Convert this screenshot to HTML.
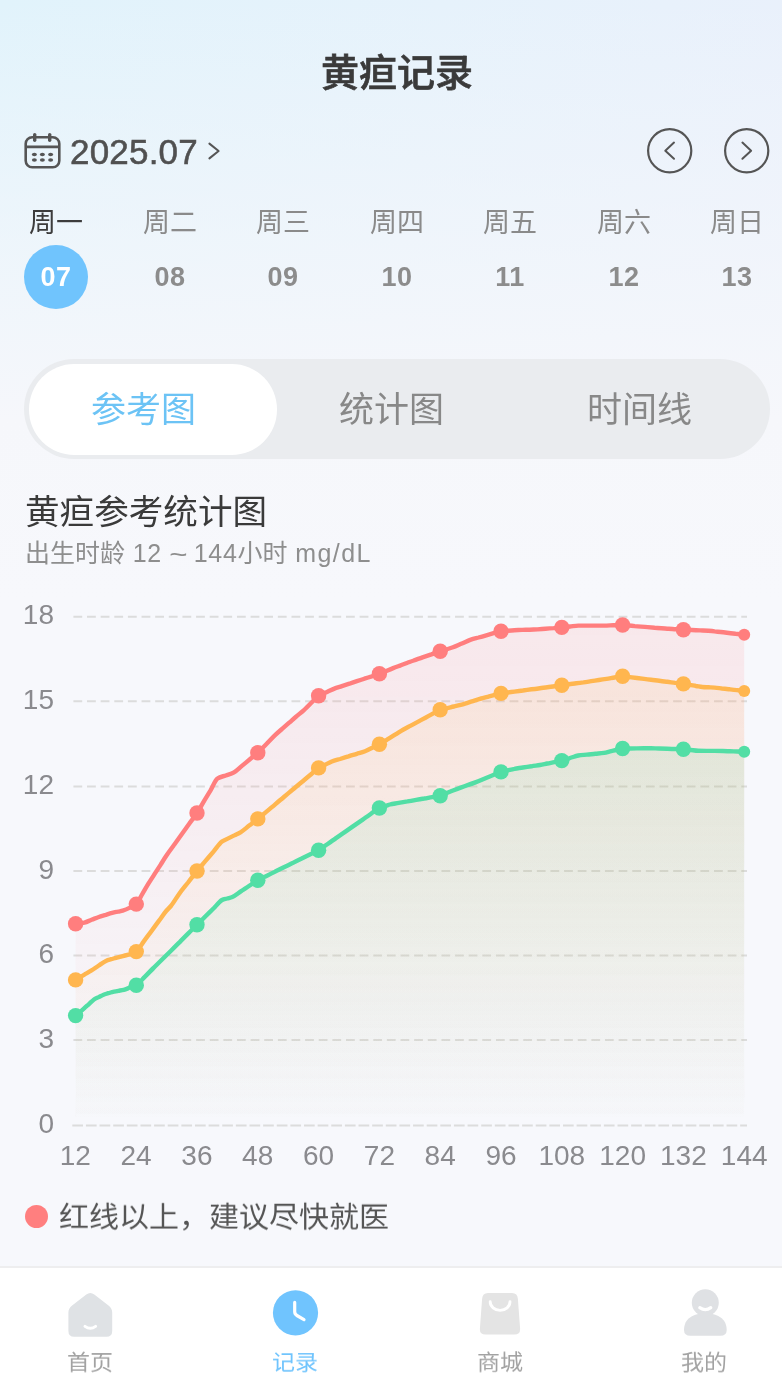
<!DOCTYPE html>
<html lang="zh-CN">
<head>
<meta charset="utf-8">
<title>黄疸记录</title>
<style>
*{margin:0;padding:0;box-sizing:border-box;}
html,body{width:782px;height:1375px;overflow:hidden;}
body{position:relative;font-family:"Liberation Sans","Noto Sans CJK SC",sans-serif;
background:#f7f8fc;}
.bg{position:absolute;left:0;top:0;width:782px;height:600px;
background:linear-gradient(to bottom,rgba(247,248,252,0) 0,rgba(245,247,251,0.75) 300px,#f6f7fb 420px,#f7f8fc 600px),
linear-gradient(100deg,#e1f3fb 0%,#e6f2fb 50%,#eaf0fb 100%);}
.abs{position:absolute;white-space:nowrap;will-change:transform;}
.title{left:0;width:794px;top:48.5px;text-align:center;font-size:38px;line-height:48px;font-weight:500;color:#3a3a3a;-webkit-text-stroke:0.7px #3a3a3a;
font-family:"Liberation Sans","Noto Sans CJK SC",sans-serif;}
.month{left:70px;top:132px;font-size:35px;line-height:40px;font-weight:normal;color:#505050;letter-spacing:0.2px;-webkit-text-stroke:0.55px #505050;}
.wk{top:206px;width:80px;text-align:center;font-size:27px;line-height:34px;color:#8a8a8a;font-family:"Liberation Sans","Noto Sans CJK SC",sans-serif;}
.wk.on{color:#3c3c3c;}
.dn{top:262px;width:80px;text-align:center;font-size:27px;line-height:30px;font-weight:bold;color:#8c8c8c;letter-spacing:0.6px;}
.dn.on{color:#fff;}
.dot07{left:24px;top:245px;width:64px;height:64px;border-radius:50%;background:#70c4fd;}
.seg{left:24px;top:359px;width:746px;height:100px;border-radius:50px;background:#eaecef;}
.segon{left:28.8px;top:363.5px;width:248.4px;height:90.5px;border-radius:45.25px;background:#fff;}
.st{top:389px;width:249px;text-align:center;font-size:35px;line-height:42px;color:#888;font-family:"Liberation Sans","Noto Sans CJK SC",sans-serif;}
.st.on{color:#6cc3f5;}
.h2{left:25px;top:489.8px;font-size:34.6px;line-height:44px;color:#3a3a3a;font-family:"Liberation Sans","Noto Sans CJK SC",sans-serif;}
.sub{left:25px;top:537px;font-size:25px;line-height:32px;color:#8e8e8e;letter-spacing:0.7px;}
.sub span{letter-spacing:0;}
.legend{left:59px;top:1197px;font-size:30px;line-height:40px;transform:scaleY(0.955);transform-origin:0 22px;color:#555;font-family:"Liberation Sans","Noto Sans CJK SC",sans-serif;}
.ldot{left:25px;top:1205px;width:23px;height:23px;border-radius:50%;background:#ff7f7f;}
.tabbar{left:0;top:1266px;width:782px;height:109px;background:#fff;border-top:2px solid #eeeeef;}
.tl{top:1347px;width:100px;text-align:center;font-size:23px;line-height:30px;transform:scaleY(0.93);transform-origin:50% 20px;color:#a2a2a2;font-family:"Liberation Sans","Noto Sans CJK SC",sans-serif;}
.tl.on{color:#70c4fd;}
</style>
</head>
<body>
<div class="bg"></div>

<div class="abs title">黄疸记录</div>

<!-- calendar icon -->
<svg class="abs" style="left:22px;top:131px" width="40" height="40" viewBox="0 0 40 40">
  <rect x="3.7" y="6.2" width="33.6" height="30.1" rx="6.5" fill="none" stroke="#555" stroke-width="2.6"/>
  <line x1="3.7" y1="15.9" x2="37.3" y2="15.9" stroke="#555" stroke-width="2.8"/>
  <line x1="12.7" y1="3.6" x2="12.7" y2="9.3" stroke="#555" stroke-width="3.4" stroke-linecap="round"/>
  <line x1="27.7" y1="3.6" x2="27.7" y2="9.3" stroke="#555" stroke-width="3.4" stroke-linecap="round"/>
  <g fill="#555">
    <ellipse cx="12.4" cy="23.5" rx="2.5" ry="1.7"/><ellipse cx="20.4" cy="23.5" rx="2.5" ry="1.7"/><ellipse cx="28.6" cy="23.5" rx="2.5" ry="1.7"/>
    <ellipse cx="12.4" cy="29" rx="2.5" ry="1.7"/><ellipse cx="20.4" cy="29" rx="2.5" ry="1.7"/><ellipse cx="28.6" cy="29" rx="2.5" ry="1.7"/>
  </g>
</svg>
<div class="abs month">2025.07</div>
<svg class="abs" style="left:204px;top:140px" width="20" height="22" viewBox="0 0 20 22">
  <polyline points="5.4,3.6 14.6,11 5.4,18.4" fill="none" stroke="#555" stroke-width="2" stroke-linecap="round" stroke-linejoin="round"/>
</svg>

<!-- nav circles -->
<svg class="abs" style="left:645px;top:126px" width="50" height="50" viewBox="0 0 50 50">
  <circle cx="24.7" cy="24.7" r="21.6" fill="none" stroke="#555" stroke-width="2.2"/>
  <polyline points="29,16.6 20.3,24.7 29,32.8" fill="none" stroke="#555" stroke-width="2" stroke-linecap="round" stroke-linejoin="round"/>
</svg>
<svg class="abs" style="left:722px;top:126px" width="50" height="50" viewBox="0 0 50 50">
  <circle cx="24.7" cy="24.7" r="21.6" fill="none" stroke="#555" stroke-width="2.2"/>
  <polyline points="20.4,16.6 29.1,24.7 20.4,32.8" fill="none" stroke="#555" stroke-width="2" stroke-linecap="round" stroke-linejoin="round"/>
</svg>

<!-- week row -->
<div class="abs wk on" style="left:16px">周一</div>
<div class="abs wk" style="left:130px">周二</div>
<div class="abs wk" style="left:243px">周三</div>
<div class="abs wk" style="left:357px">周四</div>
<div class="abs wk" style="left:470px">周五</div>
<div class="abs wk" style="left:584px">周六</div>
<div class="abs wk" style="left:697px">周日</div>
<div class="abs dot07"></div>
<div class="abs dn on" style="left:16px">07</div>
<div class="abs dn" style="left:130px">08</div>
<div class="abs dn" style="left:243px">09</div>
<div class="abs dn" style="left:357px">10</div>
<div class="abs dn" style="left:470px">11</div>
<div class="abs dn" style="left:584px">12</div>
<div class="abs dn" style="left:697px">13</div>

<!-- segmented -->
<div class="abs seg"></div>
<div class="abs segon"></div>
<div class="abs st on" style="left:19px">参考图</div>
<div class="abs st" style="left:267px">统计图</div>
<div class="abs st" style="left:515px">时间线</div>

<div class="abs h2">黄疸参考统计图</div>
<div class="abs sub"><span style="font-family:'Liberation Sans','Noto Sans CJK SC',sans-serif">出生时龄</span> 12 <span style="display:inline-block;transform:scaleX(1.25) translateY(1px);margin:0 1px 0 1px">~</span> 144<span style="font-family:'Liberation Sans','Noto Sans CJK SC',sans-serif">小时</span> <span style="letter-spacing:1.4px">mg/dL</span></div>

<!-- CHART -->
<!--CHART_START-->
<svg class="abs" style="left:0;top:580px" width="782" height="620" viewBox="0 580 782 620">
<defs>
<linearGradient id="fr" x1="0" y1="625.0" x2="0" y2="1117" gradientUnits="userSpaceOnUse"><stop offset="0" stop-color="#ff7e7e" stop-opacity="0.13"/><stop offset="1" stop-color="#ff7e7e" stop-opacity="0.005"/></linearGradient>
<linearGradient id="fo" x1="0" y1="676.2" x2="0" y2="1117" gradientUnits="userSpaceOnUse"><stop offset="0" stop-color="#ffb64f" stop-opacity="0.11"/><stop offset="1" stop-color="#ffb64f" stop-opacity="0.005"/></linearGradient>
<linearGradient id="fg" x1="0" y1="748.3" x2="0" y2="1117" gradientUnits="userSpaceOnUse"><stop offset="0" stop-color="#52dea5" stop-opacity="0.13"/><stop offset="1" stop-color="#52dea5" stop-opacity="0.005"/></linearGradient>
</defs>
<line x1="73.4" y1="616.8" x2="747" y2="616.8" stroke="#dcdcdc" stroke-width="2" stroke-dasharray="8.8 4.83"/>
<text x="54" y="624.3" text-anchor="end" font-size="28" fill="#8a8a8e" font-family="Liberation Sans, sans-serif">18</text>
<line x1="73.4" y1="701.2" x2="747" y2="701.2" stroke="#dcdcdc" stroke-width="2" stroke-dasharray="8.8 4.83"/>
<text x="54" y="708.7" text-anchor="end" font-size="28" fill="#8a8a8e" font-family="Liberation Sans, sans-serif">15</text>
<line x1="73.4" y1="786.6" x2="747" y2="786.6" stroke="#dcdcdc" stroke-width="2" stroke-dasharray="8.8 4.83"/>
<text x="54" y="794.1" text-anchor="end" font-size="28" fill="#8a8a8e" font-family="Liberation Sans, sans-serif">12</text>
<line x1="73.4" y1="871.1" x2="747" y2="871.1" stroke="#dcdcdc" stroke-width="2" stroke-dasharray="8.8 4.83"/>
<text x="54" y="878.6" text-anchor="end" font-size="28" fill="#8a8a8e" font-family="Liberation Sans, sans-serif">9</text>
<line x1="73.4" y1="955.6" x2="747" y2="955.6" stroke="#dcdcdc" stroke-width="2" stroke-dasharray="8.8 4.83"/>
<text x="54" y="963.1" text-anchor="end" font-size="28" fill="#8a8a8e" font-family="Liberation Sans, sans-serif">6</text>
<line x1="73.4" y1="1040.1" x2="747" y2="1040.1" stroke="#dcdcdc" stroke-width="2" stroke-dasharray="8.8 4.83"/>
<text x="54" y="1047.6" text-anchor="end" font-size="28" fill="#8a8a8e" font-family="Liberation Sans, sans-serif">3</text>
<line x1="72.3" y1="1125.6" x2="747" y2="1125.6" stroke="#dcdcdc" stroke-width="2" stroke-dasharray="10.7 2.93"/>
<text x="54" y="1133.1" text-anchor="end" font-size="28" fill="#8a8a8e" font-family="Liberation Sans, sans-serif">0</text>
<path d="M75.6,923.7 C78.5,923.3 81.5,923.3 84.4,922.6 C86.8,922.0 89.2,920.7 91.6,919.8 C94.0,918.9 96.4,917.8 98.8,917.0 C101.2,916.2 103.6,915.6 105.9,914.9 C108.3,914.1 110.7,913.3 113.1,912.7 C114.7,912.3 116.3,912.0 117.9,911.7 C119.5,911.3 121.1,911.1 122.7,910.6 C124.9,909.9 127.2,909.0 129.4,907.9 C131.7,906.8 134.0,906.6 136.3,904.1 C138.3,901.9 140.3,897.3 142.4,893.9 C144.4,890.5 146.4,887.0 148.4,883.7 C150.4,880.4 152.5,877.3 154.5,874.1 C156.6,870.9 158.6,867.8 160.7,864.6 C162.7,861.4 164.8,858.0 166.8,855.0 C169.3,851.3 171.8,848.0 174.4,844.5 C176.9,841.0 179.4,837.5 181.9,834.0 C184.4,830.5 186.9,827.0 189.4,823.5 C192.0,820.0 194.5,816.9 197.0,813.0 C199.3,809.5 201.6,805.4 203.8,801.5 C206.1,797.7 208.4,793.9 210.7,790.1 C212.9,786.2 215.2,780.3 217.5,778.6 C220.2,776.5 223.0,776.5 225.8,775.5 C228.5,774.5 231.2,774.1 234.0,772.4 C236.6,770.8 239.3,768.0 241.9,765.9 C244.6,763.7 247.2,761.5 249.9,759.3 C252.5,757.2 255.2,755.2 257.8,752.8 C260.8,750.1 263.7,746.7 266.7,743.7 C269.7,740.7 272.6,737.4 275.6,734.6 C277.9,732.5 280.1,730.6 282.4,728.6 C284.7,726.6 286.9,724.7 289.2,722.7 C291.5,720.7 293.7,718.6 296.0,716.7 C298.6,714.5 301.1,712.6 303.7,710.3 C306.2,708.1 308.7,705.5 311.1,703.0 C313.6,700.6 316.1,697.6 318.6,695.8 C321.2,693.9 323.9,693.4 326.5,692.2 C329.1,691.0 331.8,689.6 334.4,688.6 C336.9,687.6 339.4,687.0 341.9,686.1 C344.4,685.3 346.9,684.5 349.4,683.7 C351.9,682.8 354.4,682.0 356.9,681.2 C359.4,680.4 361.9,679.6 364.4,678.7 C366.9,677.9 369.4,677.1 371.9,676.3 C374.4,675.4 376.9,674.7 379.4,673.8 C381.7,672.9 384.0,671.9 386.3,671.0 C388.6,670.0 390.9,669.0 393.2,668.1 C395.5,667.2 397.8,666.4 400.0,665.6 C402.3,664.7 404.6,663.9 406.9,663.0 C409.1,662.2 411.4,661.3 413.7,660.5 C416.6,659.4 419.6,658.5 422.5,657.4 C425.5,656.4 428.4,655.4 431.4,654.4 C434.3,653.3 437.3,652.3 440.2,651.3 C442.3,650.6 444.5,650.0 446.6,649.3 C448.7,648.6 450.9,648.1 453.0,647.3 C456.0,646.2 459.0,644.7 461.9,643.5 C464.9,642.2 467.9,640.6 470.9,639.6 C473.5,638.7 476.0,638.2 478.6,637.5 C481.2,636.7 483.7,636.0 486.3,635.3 C488.8,634.6 491.2,633.9 493.6,633.2 C496.1,632.6 498.6,631.6 501.0,631.2 C503.2,630.9 505.5,630.9 507.7,630.7 C509.9,630.5 512.2,630.3 514.4,630.2 C517.0,630.1 519.5,630.0 522.1,629.9 C524.6,629.8 527.2,629.8 529.7,629.7 C532.3,629.6 534.8,629.5 537.4,629.4 C540.1,629.2 542.8,629.0 545.5,628.7 C548.2,628.5 551.0,628.3 553.7,628.1 C556.4,627.8 559.1,627.7 561.8,627.4 C564.5,627.1 567.3,626.8 570.0,626.5 C572.8,626.2 575.5,625.6 578.3,625.6 C581.1,625.6 584.0,625.6 586.8,625.6 C589.7,625.6 592.5,625.6 595.4,625.6 C598.2,625.6 601.1,625.6 603.9,625.6 C606.0,625.6 608.1,625.5 610.1,625.4 C612.2,625.3 614.3,625.3 616.4,625.2 C618.4,625.1 620.5,625.0 622.6,625.0 C624.6,625.0 626.7,625.4 628.7,625.5 C630.7,625.7 632.8,625.9 634.8,626.1 C636.8,626.2 638.9,626.4 640.9,626.6 C643.2,626.8 645.5,627.0 647.7,627.1 C650.0,627.3 652.3,627.5 654.6,627.7 C656.8,627.8 659.1,628.0 661.4,628.2 C663.8,628.4 666.3,628.5 668.7,628.7 C671.2,628.9 673.6,629.0 676.1,629.2 C678.5,629.4 681.0,629.6 683.4,629.7 C686.2,629.9 689.0,629.9 691.7,630.0 C694.5,630.1 697.3,630.3 700.1,630.4 C702.8,630.5 705.6,630.5 708.4,630.7 C710.5,630.9 712.5,631.1 714.6,631.4 C716.6,631.6 718.7,631.8 720.7,632.0 C722.8,632.3 724.8,632.5 726.9,632.7 C729.8,633.0 732.7,633.4 735.5,633.8 C738.4,634.1 741.3,634.4 744.2,634.8 L744.2,1117 L75.6,1117 Z" fill="url(#fr)"/>
<path d="M75.6,979.9 C78.5,978.1 81.5,976.3 84.4,974.6 C86.6,973.3 88.9,972.1 91.1,970.7 C93.7,969.1 96.2,967.2 98.8,965.5 C101.3,963.8 103.9,961.8 106.4,960.7 C108.0,960.0 109.6,959.7 111.2,959.2 C112.8,958.8 114.4,958.2 116.0,957.8 C117.9,957.3 119.8,956.8 121.8,956.3 C123.7,955.9 125.6,955.5 127.5,954.9 C130.4,954.0 133.4,953.8 136.3,951.6 C138.8,949.7 141.3,944.8 143.8,941.4 C146.3,938.0 148.8,934.6 151.4,931.2 C153.9,927.7 156.4,924.3 158.9,920.9 C161.4,917.5 163.9,913.6 166.4,910.7 C167.9,909.0 169.4,907.8 170.9,906.0 C173.6,902.7 176.4,897.7 179.1,893.9 C182.1,889.8 185.1,886.3 188.1,882.5 C191.0,878.6 194.0,874.7 197.0,871.0 C199.8,867.6 202.6,864.4 205.3,861.2 C208.1,857.9 210.9,854.6 213.7,851.3 C216.4,848.1 219.2,843.7 222.0,841.5 C224.1,839.9 226.1,839.5 228.2,838.4 C230.2,837.4 232.3,836.4 234.3,835.4 C236.4,834.3 238.4,833.6 240.5,832.3 C243.4,830.5 246.3,827.8 249.2,825.6 C252.0,823.4 254.9,821.2 257.8,818.9 C260.7,816.6 263.6,814.0 266.5,811.6 C269.4,809.2 272.3,806.8 275.2,804.3 C278.1,801.9 281.0,799.5 283.9,797.0 C286.8,794.6 289.6,792.2 292.5,789.8 C295.4,787.3 298.3,784.9 301.2,782.5 C304.1,780.0 307.0,777.6 309.9,775.2 C312.8,772.8 315.7,769.7 318.6,767.9 C320.8,766.5 323.0,765.8 325.2,764.7 C327.4,763.6 329.6,762.4 331.8,761.5 C334.6,760.4 337.4,759.8 340.1,759.0 C342.9,758.1 345.7,757.2 348.5,756.4 C351.2,755.5 354.0,754.7 356.8,753.8 C359.6,753.0 362.3,752.4 365.1,751.3 C367.5,750.3 369.9,749.0 372.2,747.8 C374.6,746.6 377.0,745.6 379.4,744.3 C382.1,742.8 384.8,741.0 387.4,739.4 C390.1,737.7 392.8,736.1 395.5,734.4 C398.1,732.8 400.8,731.0 403.5,729.5 C405.9,728.1 408.4,726.9 410.8,725.6 C413.3,724.2 415.7,722.9 418.2,721.6 C420.6,720.3 423.1,719.0 425.5,717.7 C428.0,716.4 430.4,715.1 432.9,713.7 C435.3,712.4 437.8,710.7 440.2,709.8 C442.5,708.9 444.8,708.7 447.0,708.2 C449.3,707.6 451.6,707.1 453.9,706.5 C456.1,706.0 458.4,705.5 460.7,704.9 C463.0,704.3 465.3,703.5 467.5,702.8 C469.8,702.1 472.1,701.3 474.4,700.6 C476.6,699.9 478.9,699.1 481.2,698.5 C483.4,697.9 485.6,697.4 487.8,696.8 C490.0,696.2 492.2,695.7 494.4,695.1 C496.6,694.5 498.8,693.8 501.0,693.4 C503.2,693.0 505.5,692.8 507.7,692.5 C509.9,692.2 512.2,691.9 514.4,691.6 C517.2,691.2 520.1,690.8 522.9,690.5 C525.8,690.1 528.6,689.7 531.5,689.3 C534.3,689.0 537.2,688.6 540.0,688.2 C542.4,687.9 544.8,687.5 547.3,687.2 C549.7,686.9 552.1,686.5 554.5,686.2 C557.0,685.9 559.4,685.5 561.8,685.2 C564.2,684.9 566.6,684.6 569.0,684.3 C571.4,684.0 573.9,683.6 576.3,683.3 C578.7,683.0 581.1,682.7 583.5,682.4 C586.1,682.0 588.6,681.6 591.2,681.2 C593.7,680.8 596.3,680.4 598.8,680.0 C601.4,679.6 603.9,679.2 606.5,678.8 C609.2,678.4 611.9,677.9 614.5,677.5 C617.2,677.1 619.9,676.2 622.6,676.2 C625.0,676.2 627.4,676.8 629.7,677.1 C632.1,677.4 634.5,677.7 636.9,678.0 C639.2,678.3 641.6,678.6 644.0,678.9 C646.4,679.2 648.7,679.5 651.1,679.8 C653.8,680.1 656.5,680.5 659.2,680.8 C661.9,681.2 664.6,681.5 667.2,681.8 C669.9,682.2 672.6,682.5 675.3,682.9 C678.0,683.2 680.7,683.5 683.4,683.9 C685.5,684.2 687.6,684.6 689.7,684.9 C691.8,685.3 693.9,685.6 696.0,686.0 C698.1,686.3 700.2,686.8 702.3,687.0 C704.4,687.2 706.4,687.2 708.5,687.3 C710.5,687.4 712.6,687.4 714.6,687.6 C717.1,687.8 719.5,688.2 722.0,688.5 C724.5,688.7 726.9,689.0 729.4,689.3 C731.9,689.6 734.3,689.9 736.8,690.1 C739.3,690.4 741.7,690.7 744.2,691.0 L744.2,1117 L75.6,1117 Z" fill="url(#fo)"/>
<path d="M75.6,1015.6 C78.5,1013.1 81.5,1010.7 84.4,1008.1 C86.0,1006.7 87.6,1005.2 89.2,1003.8 C90.8,1002.4 92.4,1000.6 94.0,999.5 C95.6,998.4 97.2,997.9 98.8,997.1 C100.4,996.3 102.0,995.3 103.6,994.7 C105.2,994.1 106.8,993.7 108.3,993.2 C109.9,992.8 111.5,992.2 113.1,991.8 C114.9,991.4 116.6,991.2 118.4,990.8 C120.2,990.5 121.9,990.4 123.7,989.9 C125.8,989.3 127.9,988.3 130.0,987.5 C132.1,986.8 134.2,986.5 136.3,985.2 C139.2,983.4 142.1,979.4 145.0,976.6 C147.9,973.7 150.8,970.8 153.6,967.9 C156.5,965.1 159.4,962.2 162.3,959.3 C165.2,956.4 168.1,953.6 171.0,950.7 C173.9,947.8 176.8,944.9 179.7,942.1 C182.5,939.2 185.4,936.3 188.3,933.4 C191.2,930.6 194.1,927.7 197.0,924.8 C199.8,922.0 202.6,919.3 205.3,916.5 C208.1,913.8 210.9,911.0 213.7,908.3 C216.4,905.5 219.2,901.6 222.0,900.0 C223.7,899.0 225.4,899.0 227.2,898.5 C228.9,898.0 230.6,897.7 232.3,897.0 C235.1,895.8 238.0,893.3 240.8,891.4 C243.6,889.5 246.5,887.7 249.3,885.8 C252.1,883.9 255.0,881.8 257.8,880.2 C260.7,878.5 263.6,877.3 266.5,875.9 C269.4,874.5 272.3,873.1 275.2,871.6 C278.1,870.2 281.0,868.8 283.9,867.3 C286.8,865.9 289.6,864.5 292.5,863.1 C295.4,861.6 298.3,860.2 301.2,858.8 C304.1,857.3 307.0,855.9 309.9,854.5 C312.8,853.1 315.7,851.9 318.6,850.2 C321.5,848.5 324.4,846.2 327.3,844.2 C330.2,842.2 333.1,840.2 336.0,838.1 C338.9,836.1 341.8,834.1 344.7,832.1 C347.6,830.1 350.4,828.1 353.3,826.1 C356.2,824.1 359.1,822.1 362.0,820.1 C364.9,818.0 367.8,816.0 370.7,814.0 C373.6,812.0 376.5,809.4 379.4,808.0 C381.2,807.2 382.9,806.8 384.7,806.2 C386.5,805.7 388.2,805.0 390.0,804.5 C392.9,803.7 395.8,803.5 398.7,802.9 C401.6,802.4 404.6,801.9 407.5,801.4 C410.4,800.8 413.3,800.3 416.2,799.8 C418.9,799.3 421.5,798.9 424.2,798.5 C426.9,798.0 429.5,797.6 432.2,797.1 C434.9,796.7 437.5,796.6 440.2,795.8 C442.3,795.2 444.5,794.0 446.6,793.1 C448.7,792.3 450.9,791.3 453.0,790.5 C455.6,789.5 458.1,788.6 460.7,787.7 C463.2,786.8 465.8,785.8 468.3,784.9 C470.9,784.0 473.4,783.1 476.0,782.1 C478.8,781.0 481.6,779.8 484.3,778.7 C487.1,777.6 489.9,776.4 492.7,775.3 C495.4,774.2 498.2,772.8 501.0,771.9 C503.2,771.2 505.5,770.9 507.7,770.3 C509.9,769.8 512.2,769.2 514.4,768.8 C517.2,768.2 520.1,768.0 522.9,767.5 C525.8,767.1 528.6,766.7 531.5,766.3 C534.3,765.8 537.2,765.5 540.0,765.0 C542.4,764.6 544.8,764.0 547.3,763.5 C549.7,763.0 552.1,762.6 554.5,762.1 C557.0,761.6 559.4,761.2 561.8,760.6 C564.5,759.9 567.3,758.9 570.0,758.0 C572.8,757.2 575.5,756.1 578.3,755.5 C581.1,754.9 584.0,754.9 586.8,754.6 C589.7,754.3 592.5,754.1 595.4,753.8 C598.2,753.5 601.1,753.4 603.9,752.9 C606.0,752.5 608.1,751.9 610.1,751.4 C612.2,750.9 614.3,750.5 616.4,750.0 C618.4,749.5 620.5,748.5 622.6,748.5 C625.0,748.5 627.4,748.5 629.7,748.5 C632.1,748.4 634.5,748.4 636.9,748.4 C639.2,748.4 641.6,748.4 644.0,748.3 C646.4,748.3 648.7,748.3 651.1,748.3 C653.8,748.3 656.5,748.5 659.2,748.5 C661.9,748.6 664.6,748.7 667.2,748.8 C669.9,748.9 672.6,749.0 675.3,749.0 C678.0,749.1 680.7,749.1 683.4,749.3 C685.9,749.5 688.3,749.8 690.8,750.0 C693.3,750.3 695.7,750.8 698.2,750.8 C700.9,750.8 703.7,750.8 706.4,750.9 C709.1,750.9 711.9,750.9 714.6,750.9 C717.3,751.0 720.1,751.0 722.8,751.0 C725.2,751.0 727.6,751.2 729.9,751.3 C732.3,751.4 734.7,751.4 737.1,751.5 C739.4,751.6 741.8,751.7 744.2,751.8 L744.2,1117 L75.6,1117 Z" fill="url(#fg)"/>
<path d="M75.6,923.7 C78.5,923.3 81.5,923.3 84.4,922.6 C86.8,922.0 89.2,920.7 91.6,919.8 C94.0,918.9 96.4,917.8 98.8,917.0 C101.2,916.2 103.6,915.6 105.9,914.9 C108.3,914.1 110.7,913.3 113.1,912.7 C114.7,912.3 116.3,912.0 117.9,911.7 C119.5,911.3 121.1,911.1 122.7,910.6 C124.9,909.9 127.2,909.0 129.4,907.9 C131.7,906.8 134.0,906.6 136.3,904.1 C138.3,901.9 140.3,897.3 142.4,893.9 C144.4,890.5 146.4,887.0 148.4,883.7 C150.4,880.4 152.5,877.3 154.5,874.1 C156.6,870.9 158.6,867.8 160.7,864.6 C162.7,861.4 164.8,858.0 166.8,855.0 C169.3,851.3 171.8,848.0 174.4,844.5 C176.9,841.0 179.4,837.5 181.9,834.0 C184.4,830.5 186.9,827.0 189.4,823.5 C192.0,820.0 194.5,816.9 197.0,813.0 C199.3,809.5 201.6,805.4 203.8,801.5 C206.1,797.7 208.4,793.9 210.7,790.1 C212.9,786.2 215.2,780.3 217.5,778.6 C220.2,776.5 223.0,776.5 225.8,775.5 C228.5,774.5 231.2,774.1 234.0,772.4 C236.6,770.8 239.3,768.0 241.9,765.9 C244.6,763.7 247.2,761.5 249.9,759.3 C252.5,757.2 255.2,755.2 257.8,752.8 C260.8,750.1 263.7,746.7 266.7,743.7 C269.7,740.7 272.6,737.4 275.6,734.6 C277.9,732.5 280.1,730.6 282.4,728.6 C284.7,726.6 286.9,724.7 289.2,722.7 C291.5,720.7 293.7,718.6 296.0,716.7 C298.6,714.5 301.1,712.6 303.7,710.3 C306.2,708.1 308.7,705.5 311.1,703.0 C313.6,700.6 316.1,697.6 318.6,695.8 C321.2,693.9 323.9,693.4 326.5,692.2 C329.1,691.0 331.8,689.6 334.4,688.6 C336.9,687.6 339.4,687.0 341.9,686.1 C344.4,685.3 346.9,684.5 349.4,683.7 C351.9,682.8 354.4,682.0 356.9,681.2 C359.4,680.4 361.9,679.6 364.4,678.7 C366.9,677.9 369.4,677.1 371.9,676.3 C374.4,675.4 376.9,674.7 379.4,673.8 C381.7,672.9 384.0,671.9 386.3,671.0 C388.6,670.0 390.9,669.0 393.2,668.1 C395.5,667.2 397.8,666.4 400.0,665.6 C402.3,664.7 404.6,663.9 406.9,663.0 C409.1,662.2 411.4,661.3 413.7,660.5 C416.6,659.4 419.6,658.5 422.5,657.4 C425.5,656.4 428.4,655.4 431.4,654.4 C434.3,653.3 437.3,652.3 440.2,651.3 C442.3,650.6 444.5,650.0 446.6,649.3 C448.7,648.6 450.9,648.1 453.0,647.3 C456.0,646.2 459.0,644.7 461.9,643.5 C464.9,642.2 467.9,640.6 470.9,639.6 C473.5,638.7 476.0,638.2 478.6,637.5 C481.2,636.7 483.7,636.0 486.3,635.3 C488.8,634.6 491.2,633.9 493.6,633.2 C496.1,632.6 498.6,631.6 501.0,631.2 C503.2,630.9 505.5,630.9 507.7,630.7 C509.9,630.5 512.2,630.3 514.4,630.2 C517.0,630.1 519.5,630.0 522.1,629.9 C524.6,629.8 527.2,629.8 529.7,629.7 C532.3,629.6 534.8,629.5 537.4,629.4 C540.1,629.2 542.8,629.0 545.5,628.7 C548.2,628.5 551.0,628.3 553.7,628.1 C556.4,627.8 559.1,627.7 561.8,627.4 C564.5,627.1 567.3,626.8 570.0,626.5 C572.8,626.2 575.5,625.6 578.3,625.6 C581.1,625.6 584.0,625.6 586.8,625.6 C589.7,625.6 592.5,625.6 595.4,625.6 C598.2,625.6 601.1,625.6 603.9,625.6 C606.0,625.6 608.1,625.5 610.1,625.4 C612.2,625.3 614.3,625.3 616.4,625.2 C618.4,625.1 620.5,625.0 622.6,625.0 C624.6,625.0 626.7,625.4 628.7,625.5 C630.7,625.7 632.8,625.9 634.8,626.1 C636.8,626.2 638.9,626.4 640.9,626.6 C643.2,626.8 645.5,627.0 647.7,627.1 C650.0,627.3 652.3,627.5 654.6,627.7 C656.8,627.8 659.1,628.0 661.4,628.2 C663.8,628.4 666.3,628.5 668.7,628.7 C671.2,628.9 673.6,629.0 676.1,629.2 C678.5,629.4 681.0,629.6 683.4,629.7 C686.2,629.9 689.0,629.9 691.7,630.0 C694.5,630.1 697.3,630.3 700.1,630.4 C702.8,630.5 705.6,630.5 708.4,630.7 C710.5,630.9 712.5,631.1 714.6,631.4 C716.6,631.6 718.7,631.8 720.7,632.0 C722.8,632.3 724.8,632.5 726.9,632.7 C729.8,633.0 732.7,633.4 735.5,633.8 C738.4,634.1 741.3,634.4 744.2,634.8" fill="none" stroke="#ff7e7e" stroke-width="4.4" stroke-linejoin="round" stroke-linecap="round"/>
<path d="M75.6,979.9 C78.5,978.1 81.5,976.3 84.4,974.6 C86.6,973.3 88.9,972.1 91.1,970.7 C93.7,969.1 96.2,967.2 98.8,965.5 C101.3,963.8 103.9,961.8 106.4,960.7 C108.0,960.0 109.6,959.7 111.2,959.2 C112.8,958.8 114.4,958.2 116.0,957.8 C117.9,957.3 119.8,956.8 121.8,956.3 C123.7,955.9 125.6,955.5 127.5,954.9 C130.4,954.0 133.4,953.8 136.3,951.6 C138.8,949.7 141.3,944.8 143.8,941.4 C146.3,938.0 148.8,934.6 151.4,931.2 C153.9,927.7 156.4,924.3 158.9,920.9 C161.4,917.5 163.9,913.6 166.4,910.7 C167.9,909.0 169.4,907.8 170.9,906.0 C173.6,902.7 176.4,897.7 179.1,893.9 C182.1,889.8 185.1,886.3 188.1,882.5 C191.0,878.6 194.0,874.7 197.0,871.0 C199.8,867.6 202.6,864.4 205.3,861.2 C208.1,857.9 210.9,854.6 213.7,851.3 C216.4,848.1 219.2,843.7 222.0,841.5 C224.1,839.9 226.1,839.5 228.2,838.4 C230.2,837.4 232.3,836.4 234.3,835.4 C236.4,834.3 238.4,833.6 240.5,832.3 C243.4,830.5 246.3,827.8 249.2,825.6 C252.0,823.4 254.9,821.2 257.8,818.9 C260.7,816.6 263.6,814.0 266.5,811.6 C269.4,809.2 272.3,806.8 275.2,804.3 C278.1,801.9 281.0,799.5 283.9,797.0 C286.8,794.6 289.6,792.2 292.5,789.8 C295.4,787.3 298.3,784.9 301.2,782.5 C304.1,780.0 307.0,777.6 309.9,775.2 C312.8,772.8 315.7,769.7 318.6,767.9 C320.8,766.5 323.0,765.8 325.2,764.7 C327.4,763.6 329.6,762.4 331.8,761.5 C334.6,760.4 337.4,759.8 340.1,759.0 C342.9,758.1 345.7,757.2 348.5,756.4 C351.2,755.5 354.0,754.7 356.8,753.8 C359.6,753.0 362.3,752.4 365.1,751.3 C367.5,750.3 369.9,749.0 372.2,747.8 C374.6,746.6 377.0,745.6 379.4,744.3 C382.1,742.8 384.8,741.0 387.4,739.4 C390.1,737.7 392.8,736.1 395.5,734.4 C398.1,732.8 400.8,731.0 403.5,729.5 C405.9,728.1 408.4,726.9 410.8,725.6 C413.3,724.2 415.7,722.9 418.2,721.6 C420.6,720.3 423.1,719.0 425.5,717.7 C428.0,716.4 430.4,715.1 432.9,713.7 C435.3,712.4 437.8,710.7 440.2,709.8 C442.5,708.9 444.8,708.7 447.0,708.2 C449.3,707.6 451.6,707.1 453.9,706.5 C456.1,706.0 458.4,705.5 460.7,704.9 C463.0,704.3 465.3,703.5 467.5,702.8 C469.8,702.1 472.1,701.3 474.4,700.6 C476.6,699.9 478.9,699.1 481.2,698.5 C483.4,697.9 485.6,697.4 487.8,696.8 C490.0,696.2 492.2,695.7 494.4,695.1 C496.6,694.5 498.8,693.8 501.0,693.4 C503.2,693.0 505.5,692.8 507.7,692.5 C509.9,692.2 512.2,691.9 514.4,691.6 C517.2,691.2 520.1,690.8 522.9,690.5 C525.8,690.1 528.6,689.7 531.5,689.3 C534.3,689.0 537.2,688.6 540.0,688.2 C542.4,687.9 544.8,687.5 547.3,687.2 C549.7,686.9 552.1,686.5 554.5,686.2 C557.0,685.9 559.4,685.5 561.8,685.2 C564.2,684.9 566.6,684.6 569.0,684.3 C571.4,684.0 573.9,683.6 576.3,683.3 C578.7,683.0 581.1,682.7 583.5,682.4 C586.1,682.0 588.6,681.6 591.2,681.2 C593.7,680.8 596.3,680.4 598.8,680.0 C601.4,679.6 603.9,679.2 606.5,678.8 C609.2,678.4 611.9,677.9 614.5,677.5 C617.2,677.1 619.9,676.2 622.6,676.2 C625.0,676.2 627.4,676.8 629.7,677.1 C632.1,677.4 634.5,677.7 636.9,678.0 C639.2,678.3 641.6,678.6 644.0,678.9 C646.4,679.2 648.7,679.5 651.1,679.8 C653.8,680.1 656.5,680.5 659.2,680.8 C661.9,681.2 664.6,681.5 667.2,681.8 C669.9,682.2 672.6,682.5 675.3,682.9 C678.0,683.2 680.7,683.5 683.4,683.9 C685.5,684.2 687.6,684.6 689.7,684.9 C691.8,685.3 693.9,685.6 696.0,686.0 C698.1,686.3 700.2,686.8 702.3,687.0 C704.4,687.2 706.4,687.2 708.5,687.3 C710.5,687.4 712.6,687.4 714.6,687.6 C717.1,687.8 719.5,688.2 722.0,688.5 C724.5,688.7 726.9,689.0 729.4,689.3 C731.9,689.6 734.3,689.9 736.8,690.1 C739.3,690.4 741.7,690.7 744.2,691.0" fill="none" stroke="#ffb64f" stroke-width="4.4" stroke-linejoin="round" stroke-linecap="round"/>
<path d="M75.6,1015.6 C78.5,1013.1 81.5,1010.7 84.4,1008.1 C86.0,1006.7 87.6,1005.2 89.2,1003.8 C90.8,1002.4 92.4,1000.6 94.0,999.5 C95.6,998.4 97.2,997.9 98.8,997.1 C100.4,996.3 102.0,995.3 103.6,994.7 C105.2,994.1 106.8,993.7 108.3,993.2 C109.9,992.8 111.5,992.2 113.1,991.8 C114.9,991.4 116.6,991.2 118.4,990.8 C120.2,990.5 121.9,990.4 123.7,989.9 C125.8,989.3 127.9,988.3 130.0,987.5 C132.1,986.8 134.2,986.5 136.3,985.2 C139.2,983.4 142.1,979.4 145.0,976.6 C147.9,973.7 150.8,970.8 153.6,967.9 C156.5,965.1 159.4,962.2 162.3,959.3 C165.2,956.4 168.1,953.6 171.0,950.7 C173.9,947.8 176.8,944.9 179.7,942.1 C182.5,939.2 185.4,936.3 188.3,933.4 C191.2,930.6 194.1,927.7 197.0,924.8 C199.8,922.0 202.6,919.3 205.3,916.5 C208.1,913.8 210.9,911.0 213.7,908.3 C216.4,905.5 219.2,901.6 222.0,900.0 C223.7,899.0 225.4,899.0 227.2,898.5 C228.9,898.0 230.6,897.7 232.3,897.0 C235.1,895.8 238.0,893.3 240.8,891.4 C243.6,889.5 246.5,887.7 249.3,885.8 C252.1,883.9 255.0,881.8 257.8,880.2 C260.7,878.5 263.6,877.3 266.5,875.9 C269.4,874.5 272.3,873.1 275.2,871.6 C278.1,870.2 281.0,868.8 283.9,867.3 C286.8,865.9 289.6,864.5 292.5,863.1 C295.4,861.6 298.3,860.2 301.2,858.8 C304.1,857.3 307.0,855.9 309.9,854.5 C312.8,853.1 315.7,851.9 318.6,850.2 C321.5,848.5 324.4,846.2 327.3,844.2 C330.2,842.2 333.1,840.2 336.0,838.1 C338.9,836.1 341.8,834.1 344.7,832.1 C347.6,830.1 350.4,828.1 353.3,826.1 C356.2,824.1 359.1,822.1 362.0,820.1 C364.9,818.0 367.8,816.0 370.7,814.0 C373.6,812.0 376.5,809.4 379.4,808.0 C381.2,807.2 382.9,806.8 384.7,806.2 C386.5,805.7 388.2,805.0 390.0,804.5 C392.9,803.7 395.8,803.5 398.7,802.9 C401.6,802.4 404.6,801.9 407.5,801.4 C410.4,800.8 413.3,800.3 416.2,799.8 C418.9,799.3 421.5,798.9 424.2,798.5 C426.9,798.0 429.5,797.6 432.2,797.1 C434.9,796.7 437.5,796.6 440.2,795.8 C442.3,795.2 444.5,794.0 446.6,793.1 C448.7,792.3 450.9,791.3 453.0,790.5 C455.6,789.5 458.1,788.6 460.7,787.7 C463.2,786.8 465.8,785.8 468.3,784.9 C470.9,784.0 473.4,783.1 476.0,782.1 C478.8,781.0 481.6,779.8 484.3,778.7 C487.1,777.6 489.9,776.4 492.7,775.3 C495.4,774.2 498.2,772.8 501.0,771.9 C503.2,771.2 505.5,770.9 507.7,770.3 C509.9,769.8 512.2,769.2 514.4,768.8 C517.2,768.2 520.1,768.0 522.9,767.5 C525.8,767.1 528.6,766.7 531.5,766.3 C534.3,765.8 537.2,765.5 540.0,765.0 C542.4,764.6 544.8,764.0 547.3,763.5 C549.7,763.0 552.1,762.6 554.5,762.1 C557.0,761.6 559.4,761.2 561.8,760.6 C564.5,759.9 567.3,758.9 570.0,758.0 C572.8,757.2 575.5,756.1 578.3,755.5 C581.1,754.9 584.0,754.9 586.8,754.6 C589.7,754.3 592.5,754.1 595.4,753.8 C598.2,753.5 601.1,753.4 603.9,752.9 C606.0,752.5 608.1,751.9 610.1,751.4 C612.2,750.9 614.3,750.5 616.4,750.0 C618.4,749.5 620.5,748.5 622.6,748.5 C625.0,748.5 627.4,748.5 629.7,748.5 C632.1,748.4 634.5,748.4 636.9,748.4 C639.2,748.4 641.6,748.4 644.0,748.3 C646.4,748.3 648.7,748.3 651.1,748.3 C653.8,748.3 656.5,748.5 659.2,748.5 C661.9,748.6 664.6,748.7 667.2,748.8 C669.9,748.9 672.6,749.0 675.3,749.0 C678.0,749.1 680.7,749.1 683.4,749.3 C685.9,749.5 688.3,749.8 690.8,750.0 C693.3,750.3 695.7,750.8 698.2,750.8 C700.9,750.8 703.7,750.8 706.4,750.9 C709.1,750.9 711.9,750.9 714.6,750.9 C717.3,751.0 720.1,751.0 722.8,751.0 C725.2,751.0 727.6,751.2 729.9,751.3 C732.3,751.4 734.7,751.4 737.1,751.5 C739.4,751.6 741.8,751.7 744.2,751.8" fill="none" stroke="#52dea5" stroke-width="4.4" stroke-linejoin="round" stroke-linecap="round"/>
<circle cx="75.6" cy="923.7" r="7.7" fill="#ff7e7e"/>
<circle cx="136.3" cy="904.1" r="7.7" fill="#ff7e7e"/>
<circle cx="197.0" cy="813.0" r="7.7" fill="#ff7e7e"/>
<circle cx="257.8" cy="752.8" r="7.7" fill="#ff7e7e"/>
<circle cx="318.6" cy="695.8" r="7.7" fill="#ff7e7e"/>
<circle cx="379.4" cy="673.8" r="7.7" fill="#ff7e7e"/>
<circle cx="440.2" cy="651.3" r="7.7" fill="#ff7e7e"/>
<circle cx="501.0" cy="631.2" r="7.7" fill="#ff7e7e"/>
<circle cx="561.8" cy="627.4" r="7.7" fill="#ff7e7e"/>
<circle cx="622.6" cy="625.0" r="7.7" fill="#ff7e7e"/>
<circle cx="683.4" cy="629.7" r="7.7" fill="#ff7e7e"/>
<circle cx="744.2" cy="634.8" r="6.0" fill="#ff7e7e"/>
<circle cx="75.6" cy="979.9" r="7.7" fill="#ffb64f"/>
<circle cx="136.3" cy="951.6" r="7.7" fill="#ffb64f"/>
<circle cx="197.0" cy="871.0" r="7.7" fill="#ffb64f"/>
<circle cx="257.8" cy="818.9" r="7.7" fill="#ffb64f"/>
<circle cx="318.6" cy="767.9" r="7.7" fill="#ffb64f"/>
<circle cx="379.4" cy="744.3" r="7.7" fill="#ffb64f"/>
<circle cx="440.2" cy="709.8" r="7.7" fill="#ffb64f"/>
<circle cx="501.0" cy="693.4" r="7.7" fill="#ffb64f"/>
<circle cx="561.8" cy="685.2" r="7.7" fill="#ffb64f"/>
<circle cx="622.6" cy="676.2" r="7.7" fill="#ffb64f"/>
<circle cx="683.4" cy="683.9" r="7.7" fill="#ffb64f"/>
<circle cx="744.2" cy="691.0" r="6.0" fill="#ffb64f"/>
<circle cx="75.6" cy="1015.6" r="7.7" fill="#52dea5"/>
<circle cx="136.3" cy="985.2" r="7.7" fill="#52dea5"/>
<circle cx="197.0" cy="924.8" r="7.7" fill="#52dea5"/>
<circle cx="257.8" cy="880.2" r="7.7" fill="#52dea5"/>
<circle cx="318.6" cy="850.2" r="7.7" fill="#52dea5"/>
<circle cx="379.4" cy="808.0" r="7.7" fill="#52dea5"/>
<circle cx="440.2" cy="795.8" r="7.7" fill="#52dea5"/>
<circle cx="501.0" cy="771.9" r="7.7" fill="#52dea5"/>
<circle cx="561.8" cy="760.6" r="7.7" fill="#52dea5"/>
<circle cx="622.6" cy="748.5" r="7.7" fill="#52dea5"/>
<circle cx="683.4" cy="749.3" r="7.7" fill="#52dea5"/>
<circle cx="744.2" cy="751.8" r="6.0" fill="#52dea5"/>
<text x="75.3" y="1165" text-anchor="middle" font-size="28" fill="#8a8a8e" font-family="Liberation Sans, sans-serif">12</text>
<text x="136.1" y="1165" text-anchor="middle" font-size="28" fill="#8a8a8e" font-family="Liberation Sans, sans-serif">24</text>
<text x="196.9" y="1165" text-anchor="middle" font-size="28" fill="#8a8a8e" font-family="Liberation Sans, sans-serif">36</text>
<text x="257.7" y="1165" text-anchor="middle" font-size="28" fill="#8a8a8e" font-family="Liberation Sans, sans-serif">48</text>
<text x="318.5" y="1165" text-anchor="middle" font-size="28" fill="#8a8a8e" font-family="Liberation Sans, sans-serif">60</text>
<text x="379.4" y="1165" text-anchor="middle" font-size="28" fill="#8a8a8e" font-family="Liberation Sans, sans-serif">72</text>
<text x="440.2" y="1165" text-anchor="middle" font-size="28" fill="#8a8a8e" font-family="Liberation Sans, sans-serif">84</text>
<text x="501.0" y="1165" text-anchor="middle" font-size="28" fill="#8a8a8e" font-family="Liberation Sans, sans-serif">96</text>
<text x="561.8" y="1165" text-anchor="middle" font-size="28" fill="#8a8a8e" font-family="Liberation Sans, sans-serif">108</text>
<text x="622.6" y="1165" text-anchor="middle" font-size="28" fill="#8a8a8e" font-family="Liberation Sans, sans-serif">120</text>
<text x="683.4" y="1165" text-anchor="middle" font-size="28" fill="#8a8a8e" font-family="Liberation Sans, sans-serif">132</text>
<text x="744.2" y="1165" text-anchor="middle" font-size="28" fill="#8a8a8e" font-family="Liberation Sans, sans-serif">144</text>
</svg>
<!--CHART_END-->

<div class="abs ldot"></div>
<div class="abs legend">红线以上，建议尽快就医</div>

<!-- tab bar -->
<div class="abs tabbar"></div>
<!--TAB_ICONS-->
<svg class="abs" style="left:0;top:1280px" width="782" height="70" viewBox="0 1280 782 70">
  <path d="M86.3,1294.4 Q90.3,1291.4 94.3,1294.4 L108.5,1305.5 Q112.2,1308.3 112.2,1312.6 L112.2,1331 Q112.2,1336.8 106.4,1336.8 L74.2,1336.8 Q68.4,1336.8 68.4,1331 L68.4,1312.6 Q68.4,1308.3 72.1,1305.5 Z" fill="#dfe2e5"/>
  <path d="M85,1326.4 Q90.3,1330.2 95.6,1326.4" fill="none" stroke="#fff" stroke-width="3" stroke-linecap="round"/>
  <circle cx="295.5" cy="1312.8" r="22.6" fill="#70c4fe"/>
  <path d="M294.7,1302.4 L294.7,1311.8 Q294.7,1314.2 296.9,1315.5 L304,1319.6" fill="none" stroke="#fff" stroke-width="3.2" stroke-linecap="round" stroke-linejoin="round"/>
  <path d="M488,1293 L512,1293 Q517.6,1293 517.9,1299 L520.1,1328.6 Q520.4,1334.6 514.4,1334.6 L485.6,1334.6 Q479.6,1334.6 479.9,1328.6 L482.1,1299 Q482.4,1293 488,1293 Z" fill="#e4e4e4"/>
  <path d="M490.2,1301.8 A9.9,8.6 0 0 0 510,1301.8" fill="none" stroke="#fff" stroke-width="2.9" stroke-linecap="round"/>
  <path d="M684,1330 C684,1318 694,1313.2 705.3,1313.2 C716.6,1313.2 726.7,1318 726.7,1330 Q726.7,1335.8 720.2,1335.8 L690.5,1335.8 Q684,1335.8 684,1330 Z" fill="#dfe1e4"/>
  <circle cx="705.3" cy="1302.8" r="13.5" fill="#dfe1e4"/>
  <path d="M699.8,1307.6 Q705.3,1311.6 710.8,1307.6" fill="none" stroke="#fff" stroke-width="3.2" stroke-linecap="round"/>
</svg>
<!--TAB_ICONS_END-->
<div class="abs tl" style="left:40px">首页</div>
<div class="abs tl on" style="left:245px">记录</div>
<div class="abs tl" style="left:450px">商城</div>
<div class="abs tl" style="left:654px">我的</div>
</body>
</html>
